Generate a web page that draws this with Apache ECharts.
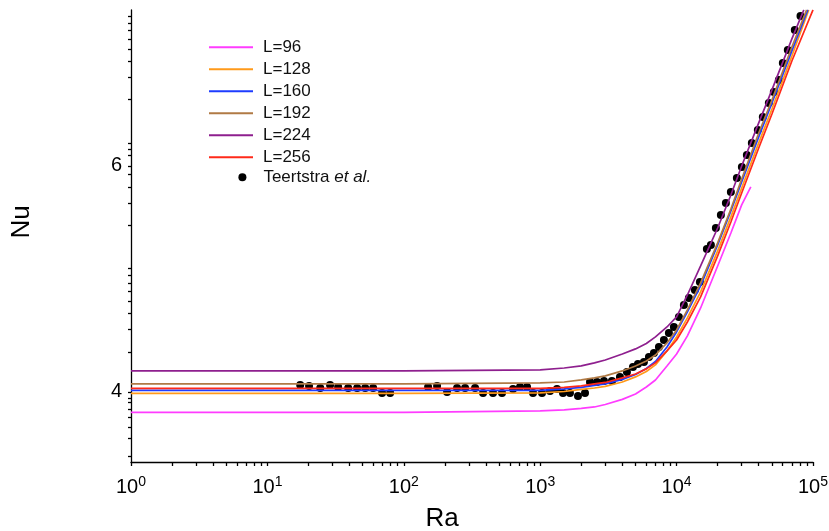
<!DOCTYPE html>
<html>
<head>
<meta charset="utf-8">
<script src="https://cdn.jsdelivr.net/npm/echarts@6/dist/echarts.min.js"></script>
<style>
  html, body { margin: 0; padding: 0; background: #fff; }
  #chart { width: 829px; height: 531px; }
</style>
</head>
<body>
<div id="chart"></div>
<script>
// Nusselt number versus Rayleigh number for several lattice sizes L,
// with the reference correlation points of Teertstra et al.

const xLabelValues = [1, 10, 100, 1000, 10000, 100000];
const yLabelValues = [4, 6];
// unlabelled tick marks along the Nu axis
const yTickValues = [
  7.327, 7.265, 7.204, 7.124, 7.035, 6.929, 6.788, 6.593,
  6.204, 6.150, 6.097, 6.0, 5.929, 5.814, 5.673, 5.478,
  5.097, 5.035, 4.965, 4.894, 4.805, 4.699, 4.558, 4.354,
  4.0, 3.947, 3.912, 3.850, 3.779, 3.690, 3.593, 3.434
];

const seriesNames = ['L=96', 'L=128', 'L=160', 'L=192', 'L=224', 'L=256'];
const seriesColors = ['#ff3cff', '#ff9a1a', '#1e3cff', '#b07a45', '#8e1f8e', '#ff2a1a'];

// simulation curves
const raL96 = [1, 10, 100, 1000, 1500, 2000, 2500, 3000, 4000, 5000, 6000, 7000, 8500,
  10000, 12000, 15000, 20000, 25000, 30000, 35000];
const nuL96 = [3.820, 3.820, 3.820, 3.832, 3.841, 3.854, 3.867, 3.889, 3.934, 3.982, 4.044, 4.106, 4.230,
  4.336, 4.496, 4.743, 5.115, 5.407, 5.655, 5.814];

const raCurve = [1, 10, 100, 1000, 1500, 2000, 2500, 3000, 4000, 5000, 6000, 7000, 8500,
  10000, 12000, 15000, 20000, 25000, 30000, 40000, 50000, 70000];
const nuL128 = [3.988, 3.988, 3.988, 3.991, 4.004, 4.022, 4.035, 4.049, 4.088, 4.133, 4.181, 4.239, 4.363,
  4.487, 4.655, 4.885, 5.248, 5.549, 5.805, 6.204, 6.504, 6.973];
const nuL160 = [4.013, 4.013, 4.013, 4.013, 4.027, 4.040, 4.058, 4.071, 4.111, 4.155, 4.208, 4.270, 4.398,
  4.531, 4.708, 4.938, 5.301, 5.602, 5.858, 6.257, 6.558, 7.018];
const nuL192 = [4.071, 4.071, 4.071, 4.080, 4.088, 4.106, 4.124, 4.142, 4.186, 4.230, 4.274, 4.327, 4.434,
  4.549, 4.726, 4.965, 5.319, 5.619, 5.885, 6.292, 6.584, 7.053];
const nuL224 = [4.186, 4.186, 4.186, 4.195, 4.212, 4.230, 4.257, 4.283, 4.336, 4.381, 4.429, 4.487, 4.575,
  4.664, 4.858, 5.115, 5.451, 5.743, 6.000, 6.381, 6.673, 7.124];
const nuL256 = [4.031, 4.031, 4.031, 4.031, 4.040, 4.053, 4.071, 4.084, 4.124, 4.159, 4.204, 4.257, 4.363,
  4.460, 4.619, 4.841, 5.204, 5.504, 5.761, 6.159, 6.460, 6.929];
// last point of each curve (L=128 ... L=256), where it leaves the top of the plot
const raEnd = [93000, 91600, 89800, 85700, 100000];
const nuEnd = [7.381, 7.381, 7.381, 7.381, 7.381];

// Teertstra et al.
const raTeertstra = [
  17.4, 20.2, 24.4, 28.8, 33.0, 39.1, 45.5, 52.1, 59.6, 69.3, 79.4,
  150.7, 175.4, 207.6, 245.7, 281.3, 333, 381, 451, 525, 632, 711, 801, 886,
  1031, 1180, 1328, 1469, 1653, 1892, 2130,
  2317, 2607, 2934, 3357, 3842, 4324, 4786, 5207, 5760, 6268, 6818, 7421, 8072, 8782, 9555,
  10395, 11310, 12307, 13619, 14818, 16672, 17836, 19408, 21114, 22978, 24995, 27657,
  30087, 32734, 35611, 39410, 42871, 47446, 51617, 56180, 60100, 65380, 73570, 80980
];
const nuTeertstra = [
  4.062, 4.053, 4.035, 4.062, 4.044, 4.035, 4.035, 4.035, 4.035, 3.991, 3.991,
  4.044, 4.053, 4.000, 4.035, 4.035, 4.035, 3.991, 3.991, 3.991, 4.027, 4.044, 4.044, 3.991,
  3.991, 4.009, 4.027, 3.991, 3.991, 3.965, 3.991,
  4.088, 4.088, 4.097, 4.097, 4.133, 4.177, 4.221, 4.248, 4.265, 4.310, 4.345, 4.398, 4.460, 4.522, 4.575,
  4.664, 4.770, 4.832, 4.903, 4.973, 5.265, 5.301, 5.451, 5.566, 5.673, 5.770, 5.894,
  5.991, 6.097, 6.204, 6.319, 6.434, 6.558, 6.655, 6.761, 6.912, 7.027, 7.204, 7.327
];

const FONT = '"Liberation Sans", Arial, Helvetica, sans-serif';

function pairs(xs, ys) {
  return xs.map((x, i) => [x, ys[i]]);
}

const curveData = [
  pairs(raL96, nuL96),
  pairs(raCurve, nuL128).concat([[raEnd[0], nuEnd[0]]]),
  pairs(raCurve, nuL160).concat([[raEnd[1], nuEnd[1]]]),
  pairs(raCurve, nuL192).concat([[raEnd[2], nuEnd[2]]]),
  pairs(raCurve, nuL224).concat([[raEnd[3], nuEnd[3]]]),
  pairs(raCurve, nuL256).concat([[raEnd[4], nuEnd[4]]])
];

// tick marks at 1..9 times each decade
const xTickValues = [];
xLabelValues.forEach((d, i) => {
  if (i === xLabelValues.length - 1) { xTickValues.push(d); return; }
  for (let k = 1; k <= 9; k++) xTickValues.push(d * k);
});

const lineSeries = seriesNames.map((name, i) => ({
  name: name,
  type: 'line',
  data: curveData[i],
  symbol: 'none',
  smooth: false,
  clip: true,
  z: 3,
  lineStyle: { color: seriesColors[i], width: 1.7 },
  itemStyle: { color: seriesColors[i], opacity: 0 }
}));

const chart = echarts.init(document.getElementById('chart'), null, { renderer: 'canvas' });

chart.setOption({
  animation: false,
  backgroundColor: '#ffffff',
  textStyle: { fontFamily: FONT },
  grid: {
    left: 131, right: 16, top: 10, bottom: 69,
    containLabel: false,
    outerBoundsMode: 'none'
  },
  legend: [
    {
      data: seriesNames,
      orient: 'vertical',
      left: 208,
      top: 38.7,
      padding: 0,
      itemWidth: 44,
      itemHeight: 17,
      itemGap: 5,
      itemStyle: { opacity: 0 },
      textStyle: { fontFamily: FONT, fontSize: 17, color: '#111', lineHeight: 17, padding: [0, 0, 0, 5] },
      selectedMode: false
    },
    {
      data: ['Teertstra et al.'],
      orient: 'vertical',
      left: 238.4,
      top: 168.7,
      padding: 0,
      itemWidth: 32,
      itemHeight: 8,
      itemStyle: { opacity: 1 },
      textStyle: {
        fontFamily: FONT, fontSize: 17, color: '#111',
        rich: { i: { fontFamily: FONT, fontSize: 17, fontStyle: 'italic', color: '#111' } }
      },
      formatter: () => 'Teertstra {i|et al.}',
      selectedMode: false
    }
  ],
  xAxis: {
    type: 'log',
    logBase: 10,
    min: 1,
    max: 100000,
    name: 'Ra',
    nameLocation: 'middle',
    nameGap: 44,
    nameTextStyle: { fontFamily: FONT, fontSize: 26, color: '#000', padding: [0, 60, 0, 0] },
    axisLine: { show: true, onZero: false, lineStyle: { color: '#000', width: 1.3 } },
    axisTick: { show: true, inside: false, length: 4, customValues: xTickValues, lineStyle: { color: '#000', width: 1.3 } },
    minorTick: { show: false },
    splitLine: { show: false },
    axisLabel: {
      customValues: xLabelValues,
      margin: 13,
      color: '#000',
      formatter: (v) => '{b|10}{s|' + Math.round(Math.log10(v)) + '}',
      rich: {
        b: { fontFamily: FONT, fontSize: 20, lineHeight: 24, color: '#000' },
        s: { fontFamily: FONT, fontSize: 14, lineHeight: 11, verticalAlign: 'top', color: '#000' }
      }
    }
  },
  yAxis: {
    type: 'value',
    min: 3.38,
    max: 7.38,
    name: 'Nu',
    nameLocation: 'middle',
    nameGap: 96,
    nameRotate: 90,
    nameTextStyle: { fontFamily: FONT, fontSize: 26, color: '#000', padding: [0, 0, 0, 28] },
    axisLine: { show: true, onZero: false, lineStyle: { color: '#000', width: 1.3 } },
    axisTick: { show: true, inside: false, length: 3, customValues: yTickValues, lineStyle: { color: '#000', width: 1.3 } },
    splitLine: { show: false },
    axisLabel: {
      customValues: yLabelValues,
      margin: 9,
      fontFamily: FONT,
      fontSize: 20,
      color: '#000'
    }
  },
  series: [
    {
      name: 'Teertstra et al.',
      type: 'scatter',
      data: pairs(raTeertstra, nuTeertstra),
      symbol: 'circle',
      symbolSize: 8,
      z: 2,
      itemStyle: { color: '#000000', opacity: 1 }
    }
  ].concat(lineSeries)
});
</script>
</body>
</html>
